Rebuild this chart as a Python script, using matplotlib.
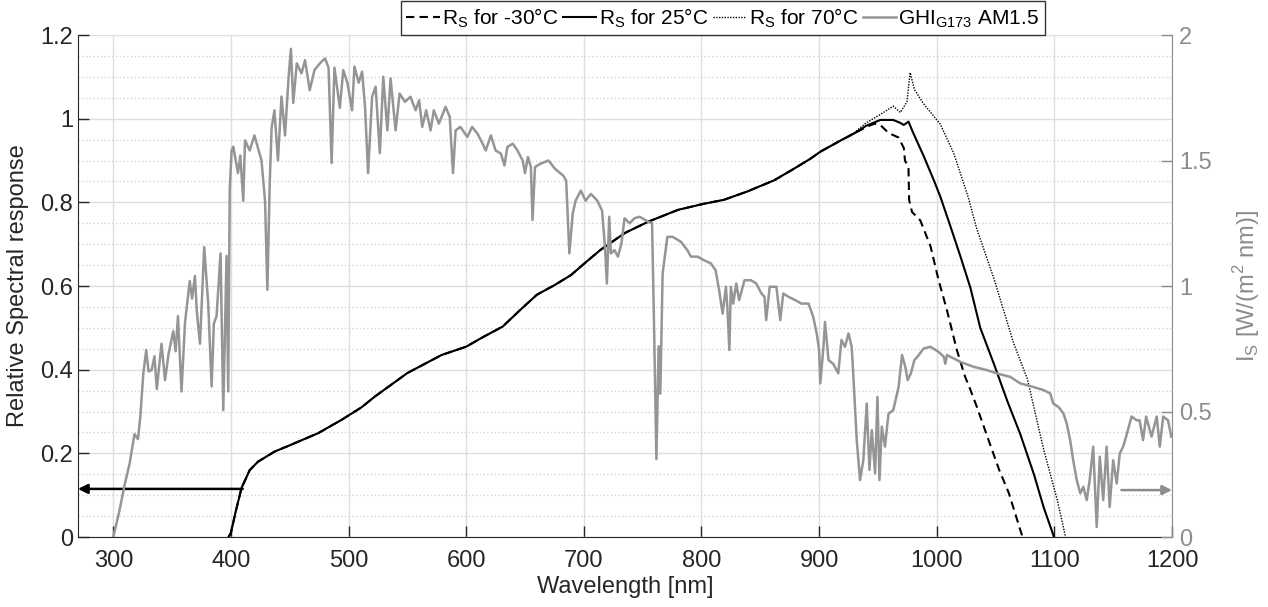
import numpy as np
import matplotlib
matplotlib.use("Agg")
import matplotlib.pyplot as plt
from matplotlib.ticker import MultipleLocator, FuncFormatter

plt.rcParams['font.family'] = ['Liberation Sans', 'DejaVu Sans']
plt.rcParams['mathtext.fontset'] = 'custom'
plt.rcParams['mathtext.rm'] = 'Liberation Sans'

# relative spectral response, 25 degC
wl_25 = [398, 400, 404, 409, 416, 423, 437, 454, 474, 494, 511, 522, 550, 579, 600,
         615, 631, 646, 660, 675, 689, 703, 714, 735, 755, 780, 801, 819, 839, 862,
         879, 893, 901, 919, 930, 940, 952, 963, 969, 972, 976, 980, 989, 997.5,
         1003, 1011.6, 1020, 1028.6, 1037, 1048.7, 1060, 1071, 1082.6, 1091, 1099.7]
rs_25 = [0, 0.01, 0.06, 0.117, 0.16, 0.18, 0.204, 0.224, 0.248, 0.28, 0.31, 0.335,
         0.392, 0.435, 0.455, 0.479, 0.503, 0.543, 0.579, 0.602, 0.626, 0.66, 0.686,
         0.727, 0.754, 0.782, 0.796, 0.806, 0.826, 0.853, 0.881, 0.905, 0.921, 0.949,
         0.965, 0.983, 0.997, 0.997, 0.99, 0.985, 0.993, 0.966, 0.91, 0.853, 0.814,
         0.743, 0.672, 0.596, 0.5, 0.413, 0.325, 0.246, 0.15, 0.07, 0.0]

# -30 degC
wl_m30 = [398, 400, 404, 409, 416, 423, 437, 454, 474, 494, 511, 522, 550, 579, 600,
          615, 631, 646, 660, 675, 689, 703, 714, 735, 755, 780, 801, 819, 839, 862,
          879, 893, 901, 919, 930, 940, 947, 952, 959, 967.5, 972, 973, 976, 976.5,
          979, 986, 994.7, 1001.5, 1008.6, 1017, 1024, 1028.6, 1034, 1043, 1053,
          1061.3, 1071, 1073]
rs_m30 = [0, 0.01, 0.06, 0.117, 0.16, 0.18, 0.204, 0.224, 0.248, 0.28, 0.31, 0.335,
          0.392, 0.435, 0.455, 0.479, 0.503, 0.543, 0.579, 0.602, 0.626, 0.66, 0.686,
          0.727, 0.754, 0.782, 0.796, 0.806, 0.826, 0.853, 0.881, 0.905, 0.921, 0.949,
          0.965, 0.98, 0.988, 0.985, 0.966, 0.955, 0.93, 0.9, 0.883, 0.806, 0.777,
          0.757, 0.695, 0.615, 0.543, 0.448, 0.384, 0.352, 0.312, 0.24, 0.161, 0.105,
          0.017, 0.0]

# 70 degC
wl_70 = [398, 400, 404, 409, 416, 423, 437, 454, 474, 494, 511, 522, 550, 579, 600,
         615, 631, 646, 660, 675, 689, 703, 714, 735, 755, 780, 801, 819, 839, 862,
         879, 893, 901, 919, 930, 940, 952, 963, 969, 974.6, 977.4, 981, 989, 1003,
         1014.5, 1027, 1034, 1048.7, 1065.4, 1077, 1091, 1102.5, 1109.5]
rs_70 = [0, 0.01, 0.06, 0.117, 0.16, 0.18, 0.204, 0.224, 0.248, 0.28, 0.31, 0.335,
         0.392, 0.435, 0.455, 0.479, 0.503, 0.543, 0.579, 0.602, 0.626, 0.66, 0.686,
         0.727, 0.754, 0.782, 0.796, 0.806, 0.826, 0.853, 0.881, 0.905, 0.921, 0.949,
         0.967, 0.99, 1.01, 1.03, 1.015, 1.04, 1.11, 1.07, 1.035, 0.987, 0.917, 0.81,
         0.737, 0.617, 0.463, 0.378, 0.208, 0.088, 0.0]

# GHI G173 AM1.5 [W/(m2 nm)]
wl_ghi = [300, 305, 310, 314, 318, 321, 323, 325.5, 328, 330, 332.6, 335, 337, 341,
          344, 347, 351, 353, 355, 358, 361, 365, 367, 369.4, 371, 373.7, 377.3,
          380.7, 383.6, 385.5, 387.8, 391.2, 393.5, 396.3, 397.7, 399, 400.6, 402,
          406, 408, 410.5, 412, 416, 420, 423, 426, 429, 431, 433, 434.6, 437, 440,
          443, 446, 449, 451, 453, 456, 460, 463, 467, 471, 475.6, 480, 483, 485.6,
          488, 492.6, 495.5, 499, 503, 505, 508.6, 511.5, 514, 516.6, 520, 523,
          526.6, 529.5, 533, 535.7, 540, 543.4, 548, 552.6, 557, 560, 562.6, 566,
          569.7, 572.5, 576.8, 582.5, 586, 588.8, 591, 595, 601, 605, 609.6, 614,
          616.6, 621, 625, 629.6, 632.5, 635, 639.6, 643.6, 648, 650, 652.5, 655,
          656.4, 658.5, 663, 670, 675.5, 682.5, 685, 687.7, 690.6, 693, 697.5,
          701.5, 706, 711.5, 715.5, 718, 719.6, 721.6, 723, 726, 729, 732, 734.6,
          739, 743, 747.5, 754.6, 758, 759.7, 761.7, 763.6, 765, 767, 771, 775.5,
          782.6, 788, 791, 796.7, 802, 808, 812, 815, 818, 820.8, 822, 823.7, 825,
          827, 829.6, 832, 836.6, 842, 846.6, 851, 853.6, 855, 858, 863.7, 867,
          869.5, 874, 879.6, 885, 891, 895, 898, 900, 901, 903.7, 905, 908, 912,
          916.3, 919, 922, 925, 927.7, 929, 932, 934.8, 937.6, 940.5, 942.8, 944.8,
          947.6, 949.6, 951.3, 953.3, 956, 959, 963, 967.6, 970.5, 973.3, 975.3,
          978, 981, 983.6, 988.8, 994.5, 1001.5, 1006, 1007.3, 1008.7, 1020, 1031.4,
          1042.7, 1051, 1062.5, 1071, 1082, 1091, 1096.5, 1099, 1103.5, 1107.7,
          1110.5, 1113.4, 1116, 1119, 1122, 1124.6, 1127.5, 1130, 1133, 1136,
          1138.6, 1141.5, 1144.4, 1147, 1150, 1153, 1155.6, 1158.5, 1161, 1165.6,
          1170, 1172.4, 1175.4, 1178, 1182.6, 1187, 1189.6, 1192.5, 1196.6, 1199.4]
ghi = [0.0, 0.1, 0.215, 0.295, 0.41, 0.39, 0.48, 0.65, 0.745, 0.66, 0.665, 0.72,
       0.59, 0.77, 0.625, 0.73, 0.82, 0.74, 0.88, 0.58, 0.855, 1.02, 0.95, 1.04, 0.9,
       0.77, 1.155, 0.93, 0.6, 0.85, 0.88, 1.13, 0.505, 1.12, 0.58, 1.385, 1.54,
       1.555, 1.45, 1.52, 1.34, 1.58, 1.54, 1.6, 1.55, 1.5, 1.34, 0.985, 1.41, 1.63,
       1.7, 1.5, 1.755, 1.6, 1.83, 1.945, 1.73, 1.887, 1.847, 1.9, 1.78, 1.86, 1.887,
       1.907, 1.87, 1.49, 1.87, 1.71, 1.86, 1.81, 1.7, 1.874, 1.81, 1.854, 1.715,
       1.45, 1.754, 1.794, 1.53, 1.834, 1.62, 1.827, 1.62, 1.767, 1.734, 1.754, 1.7,
       1.74, 1.634, 1.7, 1.62, 1.7, 1.647, 1.714, 1.674, 1.45, 1.62, 1.634, 1.594,
       1.634, 1.607, 1.567, 1.54, 1.6, 1.54, 1.527, 1.48, 1.554, 1.567, 1.54, 1.5,
       1.45, 1.514, 1.474, 1.263, 1.474, 1.487, 1.5, 1.467, 1.44, 1.42, 1.13, 1.29,
       1.34, 1.38, 1.34, 1.367, 1.34, 1.3, 1.155, 1.01, 1.276, 1.13, 1.143, 1.117,
       1.17, 1.27, 1.25, 1.27, 1.276, 1.256, 1.25, 0.84, 0.31, 0.76, 0.571, 1.05,
       1.196, 1.196, 1.176, 1.143, 1.117, 1.117, 1.103, 1.09, 1.063, 0.984, 0.89,
       0.997, 0.917, 0.745, 0.997, 0.93, 1.01, 0.944, 1.023, 1.023, 1.01, 0.97,
       0.957, 0.864, 0.997, 0.997, 0.864, 0.97, 0.957, 0.944, 0.93, 0.93, 0.877,
       0.81, 0.745, 0.612, 0.757, 0.857, 0.705, 0.69, 0.652, 0.785, 0.758, 0.811,
       0.758, 0.652, 0.386, 0.227, 0.306, 0.532, 0.267, 0.426, 0.253, 0.558, 0.227,
       0.44, 0.36, 0.492, 0.505, 0.598, 0.725, 0.678, 0.625, 0.652, 0.705, 0.718,
       0.751, 0.758, 0.738, 0.718, 0.69, 0.725, 0.698, 0.678, 0.665, 0.652, 0.638,
       0.612, 0.598, 0.585, 0.572, 0.532, 0.518, 0.492, 0.452, 0.386, 0.306, 0.227,
       0.174, 0.2, 0.147, 0.227, 0.36, 0.04, 0.32, 0.147, 0.36, 0.12, 0.306, 0.213,
       0.333, 0.36, 0.4, 0.48, 0.465, 0.465, 0.386, 0.48, 0.4, 0.48, 0.36, 0.48,
       0.465, 0.4]

gray = '#959595'
axgray = '#8c8c8c'
fs = 17

fig = plt.figure(figsize=(12.68, 6.07), dpi=100)
ax = fig.add_axes([0.0615, 0.1153, 0.8628, 0.827])
ax2 = ax.twinx()

l1, = ax.plot(wl_m30, rs_m30, color='black', lw=1.5, ls=(0, (4, 2.5)))
l2, = ax.plot(wl_25, rs_25, color='black', lw=1.5)
l3, = ax.plot(wl_70, rs_70, color='black', lw=1.0, ls=(0, (1, 1)))
l4, = ax2.plot(wl_ghi, ghi, color=gray, lw=1.8)

ax.set_xlim(270, 1200)
ax.set_ylim(0, 1.2)
ax2.set_ylim(0, 2)

ax.xaxis.set_major_locator(MultipleLocator(100))
ax.yaxis.set_major_locator(MultipleLocator(0.2))
ax.yaxis.set_minor_locator(MultipleLocator(0.05))
ax2.yaxis.set_major_locator(MultipleLocator(0.5))
fmt = FuncFormatter(lambda v, p: '%g' % round(v, 2))
ax.yaxis.set_major_formatter(fmt)
ax2.yaxis.set_major_formatter(fmt)

ax.grid(True, which='major', color='#dedede', lw=1.0, ls='-')
ax.grid(True, which='minor', axis='y', color='#cfcfcf', lw=0.9, ls=(0, (1, 2)))
ax.set_axisbelow(True)

ax.tick_params(which='major', direction='in', length=8, width=1, labelsize=fs,
               colors='#262626', top=False, right=False)
ax.tick_params(axis='x', pad=9)
ax.tick_params(which='minor', length=0)
ax2.tick_params(which='major', direction='in', length=8, width=1, labelsize=fs,
                colors=axgray, pad=5)

for a in (ax, ax2):
    a.spines['top'].set_visible(False)
ax.spines['left'].set_color('#262626')
ax.spines['bottom'].set_color('#262626')
ax.spines['right'].set_visible(False)
ax2.spines['left'].set_visible(False)
ax2.spines['bottom'].set_visible(False)
ax2.spines['right'].set_color(axgray)

ax.set_xlabel('Wavelength [nm]', fontsize=fs, color='#262626', labelpad=3)
ax.set_ylabel('Relative Spectral response', fontsize=fs, color='#262626', labelpad=8)
ax2.set_ylabel(r'I$_\mathregular{S}$ [W/(m$^\mathregular{2}$ nm)]', fontsize=fs,
               color=axgray, labelpad=14)

# arrows pointing to the axis each curve belongs to
ax.annotate('', xy=(270, 0.115), xytext=(410, 0.115),
            arrowprops=dict(arrowstyle='-|>', color='black', lw=1.8,
                            mutation_scale=14, shrinkA=0, shrinkB=0))
ax2.annotate('', xy=(1200, 0.187), xytext=(1157, 0.187),
             arrowprops=dict(arrowstyle='-|>', color=axgray, lw=1.8,
                             mutation_scale=14, shrinkA=0, shrinkB=0))

labels = [r'R$_\mathregular{S}$ for -30°C', r'R$_\mathregular{S}$ for 25°C',
          r'R$_\mathregular{S}$ for 70°C', r'GHI$_\mathregular{G173}$ AM1.5']
leg = fig.legend([l1, l2, l3, l4], labels, loc='upper left',
                 bbox_to_anchor=(400 / 1268, 1.0), ncol=4, fontsize=15,
                 frameon=True, fancybox=False, edgecolor='#333333', framealpha=1,
                 handlelength=1.6, handletextpad=0.1, columnspacing=0.25,
                 borderpad=0.25, borderaxespad=0.05)
leg.get_frame().set_linewidth(1.0)

fig.savefig('out.png', dpi=100)
